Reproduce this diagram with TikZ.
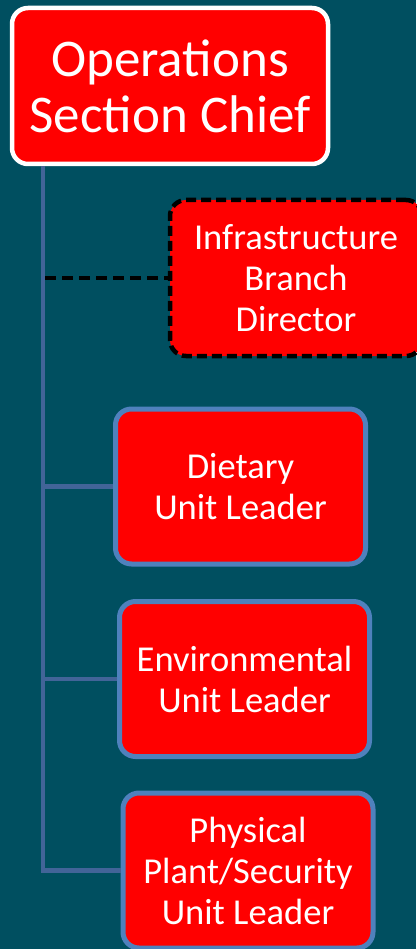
\documentclass[tikz,border=0pt]{standalone}
\usepackage{fontspec}
\setmainfont{Carlito}
\definecolor{bg}{RGB}{0,79,96}
\definecolor{trunkc}{RGB}{66,100,152}
\definecolor{unitborder}{RGB}{79,129,189}
\definecolor{boxred}{RGB}{255,0,0}
\tikzset{
  orgbox/.style={rectangle, rounded corners=16pt, fill=boxred, text=white,
    align=center, inner sep=0pt},
  chiefbox/.style={orgbox, draw=white, line width=4.5pt, minimum width=316pt, minimum height=156pt,
    font=\fontsize{53}{56}\selectfont},
  branchbox/.style={orgbox, draw=black, line width=4.5pt, dash pattern=on 10pt off 5pt,
    minimum width=252pt, minimum height=156pt, font=\fontsize{36.5}{41}\selectfont},
  unitbox/.style={orgbox, draw=unitborder, line width=5pt, minimum width=250pt, minimum height=155pt,
    font=\fontsize{36.5}{41}\selectfont},
  trunk/.style={draw=trunkc, line width=4.5pt},
  dashlink/.style={draw=black, line width=4.5pt, dash pattern=on 11pt off 6pt}
}
\begin{document}
\begin{tikzpicture}[x=1pt,y=-1pt]
\fill[bg] (0,0) rectangle (416,949);
\useasboundingbox (0,0) rectangle (416,949);
\coordinate (trunkBot) at (43,873);
\node[chiefbox] (ops) at (170,86) {Operations\\Section Chief};
\coordinate (trunkTop) at (ops.south -| trunkBot);
\draw[trunk] (trunkTop) -- (trunkBot);
\node[branchbox] (infra) at (296,278) {Infrastructure\\Branch\\Director};
\node[unitbox] (diet) at (240.5,486.5) {Dietary\\Unit Leader};
\node[unitbox] (env) at (244.5,679) {Environmental\\Unit Leader};
\node[unitbox] (phys) at (248,870.5) {Physical\\Plant/Security\\Unit Leader};
\draw[dashlink] (infra.west -| trunkBot) ++(2,0) -- (infra.west);
\draw[trunk] (diet.west -| trunkBot) -- (diet.west);
\draw[trunk] (env.west -| trunkBot) -- (env.west);
\draw[trunk] (phys.west -| trunkBot) -- (phys.west);
\end{tikzpicture}
\end{document}
